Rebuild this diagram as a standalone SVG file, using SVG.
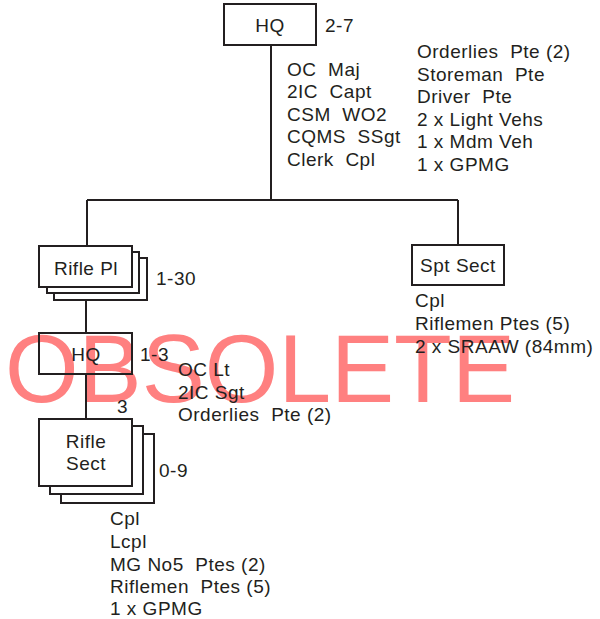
<svg xmlns="http://www.w3.org/2000/svg" width="600" height="619" viewBox="0 0 600 619">
<style>
text{font-family:"Liberation Sans",Arial,sans-serif;font-size:19px;letter-spacing:0.5px;fill:#231f20;white-space:pre}
.box{fill:#fff;stroke:#231f20;stroke-width:2}
.ln{fill:none;stroke:#231f20;stroke-width:2}
.c{text-anchor:middle}
.wm{font-size:96px;letter-spacing:0;fill:#ff8080}
</style>
<rect width="600" height="619" fill="#fff"/>
<text id="watermark" class="wm" x="5" y="402" textLength="510" lengthAdjust="spacingAndGlyphs">OBSOLETE</text>
<g id="connectors">
<path class="ln" d="M271 45V200M87 200H458M87 200V246M458 200V245M86 300V333M86 374V419"/>
</g>
<g id="coy-hq">
<rect class="box" x="224" y="4" width="92" height="41"/>
<text class="c" x="270" y="32">HQ</text>
<text x="325" y="32">2-7</text>
<text x="287" y="76">OC  Maj</text>
<text x="287" y="98">2IC  Capt</text>
<text x="287" y="121">CSM  WO2</text>
<text x="287" y="143">CQMS  SSgt</text>
<text x="287" y="166">Clerk  Cpl</text>
<text x="417" y="58">Orderlies  Pte (2)</text>
<text x="417" y="81">Storeman  Pte</text>
<text x="417" y="103">Driver  Pte</text>
<text x="417" y="126">2 x Light Vehs</text>
<text x="417" y="148">1 x Mdm Veh</text>
<text x="417" y="171">1 x GPMG</text>
</g>
<g id="spt-sect">
<rect class="box" x="412" y="245" width="92" height="40"/>
<text class="c" x="458" y="272">Spt Sect</text>
<text x="415" y="307">Cpl</text>
<text x="415" y="330">Riflemen Ptes (5)</text>
<text x="415" y="353">2 x SRAAW (84mm)</text>
</g>
<g id="rifle-pl">
<rect class="box" x="54" y="258" width="93" height="42"/>
<rect class="box" x="47" y="252" width="92" height="41"/>
<rect class="box" x="39" y="246" width="93" height="41"/>
<text class="c" x="86" y="275">Rifle Pl</text>
<text x="156" y="285">1-30</text>
</g>
<g id="pl-hq">
<rect x="39" y="333" width="93" height="41" style="fill:none;stroke:#231f20;stroke-width:2"/>
<text class="c" x="86" y="361">HQ</text>
<text x="140" y="361">1-3</text>
<text x="178" y="376">OC Lt</text>
<text x="178" y="399">2IC Sgt</text>
<text x="178" y="421">Orderlies  Pte (2)</text>
<text x="117" y="413">3</text>
</g>
<g id="rifle-sect">
<rect class="box" x="61" y="434" width="93" height="69"/>
<rect class="box" x="50" y="426" width="93" height="68"/>
<rect class="box" x="39" y="419" width="93" height="67"/>
<text class="c" x="86" y="448">Rifle</text>
<text class="c" x="86" y="470">Sect</text>
<text x="159" y="477">0-9</text>
<text x="110" y="525">Cpl</text>
<text x="110" y="548">Lcpl</text>
<text x="110" y="571">MG No5  Ptes (2)</text>
<text x="110" y="593">Riflemen  Ptes (5)</text>
<text x="110" y="615">1 x GPMG</text>
</g>
</svg>
